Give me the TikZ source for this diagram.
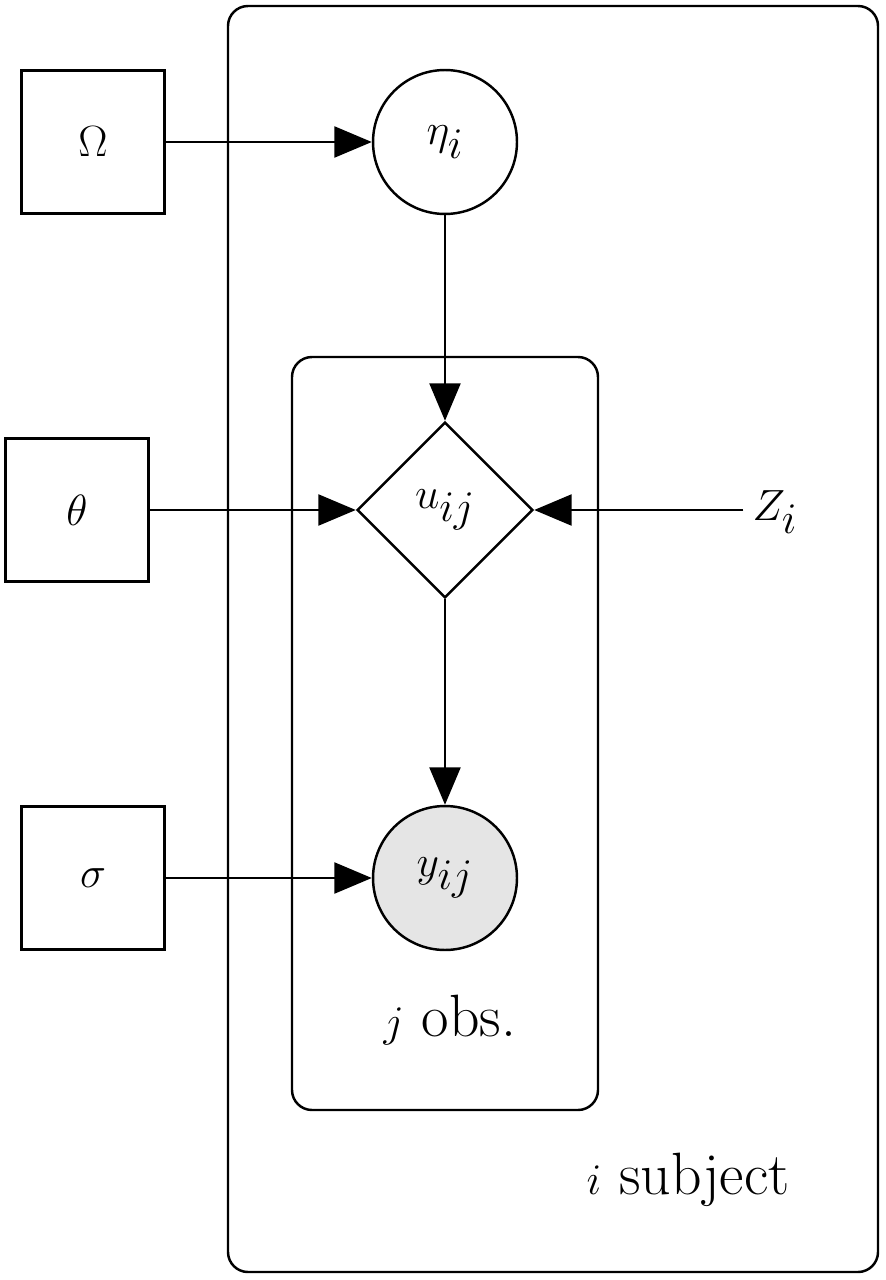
\documentclass[tikz,border=0pt]{standalone}
\usetikzlibrary{arrows.meta,shapes.geometric}
\begin{document}
\begin{tikzpicture}[x=0.02cm,y=-0.02cm,line width=1.4pt,
  big/.style={font=\fontsize{34}{40}\selectfont},
  param/.style={draw,rectangle,minimum size=2.86cm,inner sep=0,big},
  latent/.style={draw,circle,minimum size=2.88cm,inner sep=0,big},
  detnode/.style={draw,diamond,minimum width=3.52cm,minimum height=3.52cm,inner sep=0,big},
  plate/.style={draw,rounded corners=0.4cm},
  arr/.style={-{Triangle[length=0.75cm,width=0.62cm]}}]
\useasboundingbox (0,0) rectangle (885,1280);
\draw[plate] (228,6) rectangle (878,1272);
\draw[plate] (292,357) rectangle (598,1110);
\node[param] (om) at (93,142) {$\Omega$};
\node[param] (th) at (77,510) {$\theta$};
\node[param] (si) at (93,878) {$\sigma$};
\node[latent] (eta) at (445,142) {$\eta_i$};
\node[detnode] (u) at (445,510) {$u_{ij}$};
\node[latent,fill=black!10] (y) at (445,878) {$y_{ij}$};
\node[big,inner sep=0] (z) at (775,512) {$Z_i$};
\node[big] (jo) at (450,1020) {$j$ obs.};
\node[big] (is) at (688,1180) {$i$ subject};
\draw[arr] (om) -- (eta);
\draw[arr] (th) -- (u);
\draw[arr] (si) -- (y);
\draw[arr] (eta) -- (u);
\draw[arr] (u) -- (y);
\draw[arr] (z.west) ++(-8,-2) -- (u.east);
\end{tikzpicture}
\end{document}
